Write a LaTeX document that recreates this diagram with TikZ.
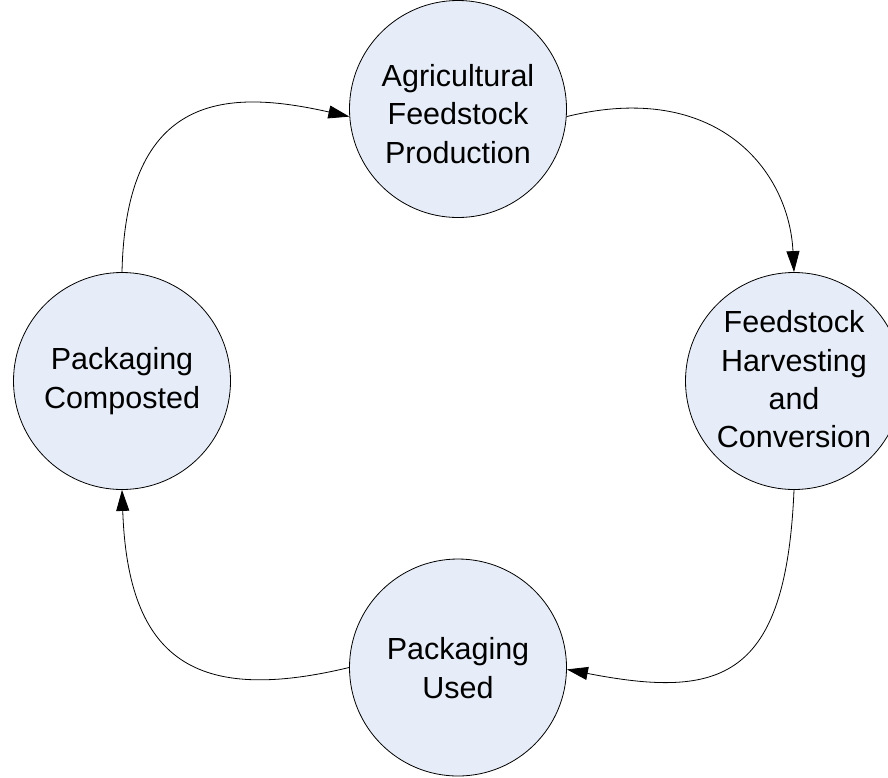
\documentclass[tikz,border=0pt]{standalone}
\usepackage{fontspec}
\setmainfont{Liberation Sans}
\usetikzlibrary{arrows.meta}
\definecolor{bubblefill}{RGB}{231,237,248}
\begin{document}
\begin{tikzpicture}[x=1pt,y=-1pt,
  stage/.style={circle, draw, line width=0.8pt, fill=bubblefill, minimum size=217pt, inner sep=0pt},
  lbl/.style={font=\fontsize{30.5}{38.3}\selectfont, align=center, inner sep=0pt},
  flow/.style={line width=0.8pt, -{Triangle[length=21pt,width=13pt]}}]
\useasboundingbox (0,0) rectangle (888,777);
\clip (0,0) rectangle (888,777);
\node[stage] (T) at (458,109) {};
\node[stage] (R) at (794,381) {};
\node[stage] (B) at (458,667.5) {};
\node[stage] (L) at (122,381) {};
\node[lbl] (Tt) at (458,114) {Agricultural\\Feedstock\\Production};
\node[lbl] (Rt) at (794,379.5) {Feedstock\\Harvesting\\and\\Conversion};
\node[lbl] (Bt) at (458,668) {Packaging\\Used};
\node[lbl] (Lt) at (122,381) {Packaging\\Composted};
\draw[flow] (T.-4) .. controls +(150,-37) and +(-5,-102) .. (R.north);
\draw[flow] (R.south) .. controls +(-8,190) and +(154,30) .. (B.-1);
\draw[flow] (B.west) .. controls +(-154,37) and +(6,170) .. (L.south);
\draw[flow] (L.north) .. controls +(4,-182) and +(-120,-27) .. (T.-176);
\end{tikzpicture}
\end{document}
